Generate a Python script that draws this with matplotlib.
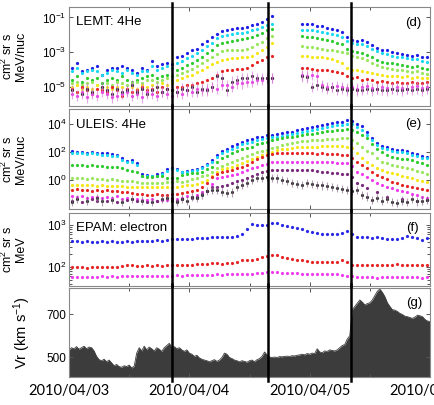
import matplotlib
matplotlib.use("Agg")
import matplotlib.pyplot as plt
import numpy as np
from matplotlib.ticker import FixedLocator, LogFormatterMathtext, NullFormatter, LogLocator

plt.rcParams['font.family'] = ['Liberation Sans', 'DejaVu Sans']
plt.rcParams['mathtext.fontset'] = 'custom'
plt.rcParams['mathtext.rm'] = 'Liberation Sans'
plt.rcParams['mathtext.it'] = 'Liberation Sans:italic'

nan = np.nan

# ---- data -------------------------------------------------------------
# hourly averages, time in hours from 2010/04/03 00:00
hours = np.arange(72) + 0.5
day_labels = ['2010/04/03', '2010/04/04', '2010/04/05', '2010/04/06']
event_days = [0.86, 1.65, 2.34]

# LEMT 4He, log10 of intensity per energy channel
lemt_blue = [-3.9, -3.6, -4.1, -4.0, -3.9, -3.8, -4.3, -4.0, -3.9, -3.9, -3.8, -3.9, -4.0, -4.2, -3.9, -4.0, -3.5, -3.8, -3.7, -3.6, -3.7,
             -3.3, -3.2, -3.05, -2.9, -2.8, -2.55, -2.35, -2.15, -1.95, -1.8, -1.72, -1.65, -1.6, -1.6, -1.58, -1.45, -1.35, -1.28, -1.1, -0.9,
             nan, nan, nan, nan, nan,
             -1.35, -1.38, -1.4, -1.48, -1.52, -1.6, -1.65, -1.75, -1.85, -2.1, -2.3, -2.35, -2.3, -2.4, -2.6, -2.75, -2.85, -2.9, -3.0, -3.05, -3.1, -3.15, -3.2, -3.15, -3.25, -3.3]
lemt_cyan = [-4.1, -3.9, -4.2, -4.1, -4.0, -4.1, -4.3, -4.2, -4.0, -4.1, -4.2, -4.0, -4.2, -4.3, -4.1, -4.1, -3.8, -4.0, -3.9, -3.8, -3.9,
             -3.6, -3.5, -3.35, -3.2, -3.05, -2.85, -2.65, -2.45, -2.2, -2.05, -2.0, -1.95, -1.9, -1.88, -1.82, -1.75, -1.65, -1.55, -1.45, -1.4,
             nan, nan, nan, nan, nan,
             -1.7, -1.7, -1.75, -1.8, -1.82, -1.9, -1.95, -2.0, -2.1, -2.35, -2.5, -2.55, -2.55, -2.65, -2.8, -2.95, -3.05, -3.1, -3.2, -3.25, -3.3, -3.35, -3.4, -3.4, -3.5, -3.55]
lemt_green = [-4.6, -4.4, -4.7, -4.5, -4.6, -4.5, -4.8, -4.6, -4.5, -4.6, -4.4, -4.6, -4.7, -4.6, -4.5, -4.4, -4.3, -4.5, -4.4, -4.3, -4.4,
              -4.0, -3.9, -3.75, -3.6, -3.45, -3.25, -3.05, -2.85, -2.6, -2.45, -2.4, -2.35, -2.3, -2.25, -2.2, -2.1, -2.0, -1.9, -1.75, -1.65,
              nan, nan, nan, nan, nan,
              -2.05, -2.1, -2.15, -2.2, -2.25, -2.3, -2.35, -2.45, -2.55, -2.8, -2.95, -3.0, -3.05, -3.15, -3.3, -3.45, -3.55, -3.6, -3.65, -3.7, -3.75, -3.8, -3.85, -3.8, -3.9, -3.95]
lemt_lgreen = [-4.8, -4.7, -4.9, -4.8, -4.7, -4.9, -5.0, -4.8, -4.9, -4.7, -4.8, -4.9, -4.8, -4.7, -4.8, -4.6, -4.6, -4.7, -4.6, -4.5, -4.6,
               -4.3, -4.2, -4.1, -3.95, -3.8, -3.6, -3.45, -3.3, -3.1, -2.95, -2.9, -2.9, -2.85, -2.85, -2.8, -2.7, -2.55, -2.4, -2.2, -2.05,
               nan, nan, nan, nan, nan,
               -2.65, -2.7, -2.7, -2.75, -2.8, -2.85, -2.9, -2.95, -3.0, -3.05, -3.2, -3.3, -3.35, -3.45, -3.6, -3.75, -3.85, -3.9, -3.95, -4.0, -4.05, -4.1, -4.15, -4.1, -4.2, -4.25]
lemt_yellow = [-5.0, -4.9, -5.1, -5.0, -5.1, -4.9, -5.2, -5.0, -5.1, -5.0, -5.0, -5.1, -5.0, -5.1, -4.9, -5.0, -4.9, -5.0, -4.8, -4.9, -4.8,
               -4.6, -4.5, -4.4, -4.3, -4.15, -4.0, -3.85, -3.7, -3.55, -3.45, -3.4, -3.35, -3.35, -3.3, -3.3, -3.2, -3.05, -2.9, -2.7, -2.5,
               nan, nan, nan, nan, nan,
               -3.2, -3.2, -3.25, -3.3, -3.3, -3.35, -3.4, -3.5, -3.6, -3.9, -4.0, -4.05, -4.1, -4.15, -4.2, -4.25, -4.3, -4.35, -4.4, -4.4, -4.45, -4.4, -4.5, -4.45, -4.5, -4.5]
lemt_red = [-5.1, -5.3, -5.0, -5.2, -5.4, -5.1, -5.2, -5.3, -5.0, -5.2, -5.5, -5.1, -5.3, -5.2, -5.0, -5.2, -5.1, -5.3, -5.0, -5.1, -5.2,
            -5.0, -5.0, -4.9, -4.9, -4.8, -4.7, -4.6, -4.5, -4.3, -4.1, -4.0, -4.0, -3.95, -3.95, -3.9, -3.75, -3.55, -3.45, -3.3, -3.2,
            nan, nan, nan, nan, nan,
            -3.9, -3.9, -3.95, -4.0, -4.05, -4.0, -4.1, -4.15, -4.2, -4.4, -4.5, -4.45, -4.6, -4.55, -4.6, -4.7, -4.65, -4.7, -4.75, -4.7, -4.75, -4.8, -4.7, -4.75, -4.8, -4.7]
lemt_magenta = [-5.4, -5.5, -5.3, -5.6, -5.4, -5.5, -5.3, -5.4, -5.6, -5.5, -5.4, -5.3, -5.5, -5.4, -5.6, -5.3, -5.4, -5.5, -5.3, -5.4, -5.5,
                -5.3, -5.4, -5.2, -5.3, -5.1, -5.2, -5.1, -5.0, -5.1, -4.9, -4.9, -5.0, -4.8, -4.8, -4.7, -4.7, -4.6, -4.6, -4.5, -4.5,
                nan, nan, nan, nan, nan,
                -4.3, -4.35, -4.3, -4.4, -4.9, -5.0, -5.0, -4.95, -5.0, -5.05, -5.0, -5.1, -5.0, -4.95, -5.05, -5.1, -5.0, -5.05, -5.1, -5.0, -5.05, -5.1, -5.0, -4.95, -5.05, -5.0]
lemt_black = [-5.2, nan, -5.4, -5.1, -5.3, nan, -5.0, -5.2, -5.4, -5.1, -5.3, -5.2, -4.9, -5.3, -5.1, -5.4, -5.2, -5.0, -5.3, -5.1, -5.2,
              -5.3, -5.1, -5.2, -5.0, -5.3, -5.1, -5.2, -5.0, -4.4, -4.5, -5.2, -4.7, -4.6, -4.5, -4.5, -4.4, -4.5, -4.5, -4.5, -4.5,
              nan, nan, nan, nan, nan,
              -4.4, -4.45, -5.0, -4.9, -5.0, -5.1, -5.0, -5.15, -5.1, -5.2, -5.1, -5.2, -5.15, -5.1, -5.2, -5.1, -5.15, -5.2, -5.1, -5.15, -5.2, -5.1, -5.15, -5.1, -5.2, -5.1]

# ULEIS 4He, log10 of intensity per energy channel
uleis_blue = [2.05, 2.0, 2.0, 1.95, 2.0, 1.95, 1.9, 1.9, 1.85, 1.8, 1.55, 1.35, 1.4, 1.2,
              0.4, 0.35, 0.3, 0.4, 0.5, 0.75, 0.85, 0.8, 0.6, 0.65, 0.7, 0.8, 0.95, 1.15, 1.45,
              1.8, 2.1, 2.25, 2.45, 2.6, 2.75, 2.86, 2.95, 3.05, 3.12, 3.2, 3.25, 3.3, 3.38, 3.42, 3.48, 3.57, 3.65, 3.72,
              3.8, 3.9, 3.95, 4.02, 4.1, 4.15, 4.18, 4.29, 4.25,
              4.05, 3.86, 3.45, 3.0, 2.65, 2.45, 2.38, 2.25, 2.15, 2.12, 2.05, 1.95, 1.85, 1.7, 1.62]
uleis_cyan = [1.95, 1.9, 1.92, 1.88, 1.9, 1.85, 1.82, 1.8, 1.75, 1.7, 1.45, 1.3, 1.3, 1.1,
              0.3, 0.28, 0.25, 0.3, 0.4, 0.65, 0.75, 0.7, 0.55, 0.55, 0.62, 0.7, 0.85, 1.05, 1.3,
              1.65, 1.9, 2.05, 2.25, 2.4, 2.55, 2.66, 2.75, 2.85, 2.92, 3.0, 3.05, 3.1, 3.18, 3.22, 3.28, 3.36, 3.45, 3.52,
              3.6, 3.68, 3.72, 3.8, 3.88, 3.92, 3.96, 4.05, 4.0,
              3.82, 3.6, 3.25, 2.85, 2.5, 2.3, 2.22, 2.1, 2.0, 1.98, 1.9, 1.82, 1.72, 1.6, 1.55]
uleis_green = [1.1, 1.05, 1.08, 1.0, 1.05, 1.0, 0.98, 0.95, 0.95, 0.95, 0.85, 0.7, 0.65, 0.55,
               0.25, 0.22, 0.2, 0.25, 0.28, 0.15, 0.12, 0.15, 0.35, 0.45, 0.48, 0.5, 0.6, 0.75, 0.95,
               1.3, 1.55, 1.75, 1.9, 2.05, 2.2, 2.26, 2.4, 2.55, 2.65, 2.74, 2.85, 2.92, 2.98, 3.05, 3.1, 3.18, 3.25, 3.3,
               3.33, 3.4, 3.45, 3.5, 3.55, 3.6, 3.62, 3.69, 3.6,
               3.45, 3.2, 2.98, 2.55, 2.25, 2.0, 1.8, 1.67, 1.6, 1.52, 1.48, 1.4, 1.3, 1.18, 1.07]
uleis_lgreen = [0.12, 0.1, 0.15, 0.08, 0.1, 0.05, 0.08, 0.02, 0.05, 0.0, -0.05, -0.1, -0.1, -0.15,
                -0.22, -0.24, -0.25, -0.22, -0.2, -0.15, -0.12, -0.1, -0.12, -0.05, 0.05, 0.15, 0.25, 0.36, 0.6,
                0.83, 1.0, 1.15, 1.31, 1.45, 1.55, 1.7, 1.85, 2.0, 2.1, 2.14, 2.3, 2.4, 2.5, 2.58, 2.65, 2.72, 2.78, 2.81,
                2.84, 2.86, 2.9, 2.92, 2.95, 2.96, 2.98, 2.98, 2.9,
                2.62, 2.35, 2.1, 1.9, 1.6, 1.31, 1.2, 1.1, 1.0, 0.95, 0.85, 0.75, 0.65, 0.55, 0.43]
uleis_yellow = [-0.36, -0.35, -0.38, -0.4, -0.38, -0.42, -0.4, -0.43, -0.42, -0.43, -0.45, -0.48, -0.5, -0.5,
                -0.52, -0.52, -0.55, -0.5, -0.52, -0.5, -0.55, -0.5, -0.45, -0.4, -0.36, -0.3, -0.15, 0.0, 0.3,
                0.6, 0.75, 0.85, 0.95, 1.05, 1.19, 1.35, 1.5, 1.65, 1.79, 1.9, 2.02, 2.14, 2.2, 2.25, 2.3, 2.35, 2.38, 2.38,
                2.4, 2.4, 2.42, 2.42, 2.43, 2.43, 2.42, 2.4, 2.3,
                1.9, 1.6, 1.31, 1.1, 0.83, 0.7, 0.6, 0.48, 0.4, 0.3, 0.2, 0.1, 0.0, -0.05, -0.12]
uleis_red = [-0.71, -0.65, -0.75, -0.7, -0.78, -0.72, -0.8, -0.75, -0.82, -0.83, -0.85, -0.9, -0.95, -1.0,
             -1.05, -1.07, -1.1, -1.05, -1.07, -1.1, -1.05, -1.0, -0.95, -0.85, -0.83, -0.7, -0.5, -0.24, 0.2,
             0.43, 0.55, 0.65, 0.71, 0.85, 0.95, 1.1, 1.3, 1.5, 1.67, 1.8, 1.85, 1.9, 1.9, 1.92, 1.9, 1.9, 1.92, 1.9,
             1.9, 1.88, 1.9, 1.88, 1.85, 1.85, 1.82, 1.79, 1.6,
             1.31, 1.05, 0.83, 0.6, 0.36, 0.2, 0.05, -0.12, -0.25, -0.35, -0.45, -0.5, -0.6, -0.65, -0.71]
uleis_magenta = [-1.19, -1.25, -1.15, -1.3, -1.2, -1.25, -1.3, -1.2, -1.3, -1.19, -1.35, -1.3, -1.4, -1.38,
                 -1.43, -1.45, -1.4, -1.5, -1.43, -1.45, -1.4, -1.35, -1.3, -1.19, -1.2, -1.1, -0.9, -0.83, -0.3,
                 0.12, 0.2, 0.3, 0.36, 0.45, 0.6, 0.7, 0.85, 0.95, 1.07, 1.15, 1.25, 1.31, 1.3, 1.32, 1.31, 1.3, 1.28, 1.31,
                 1.3, 1.28, 1.27, 1.25, 1.25, 1.22, 1.2, 1.19, 1.0,
                 0.6, 0.4, 0.2, 0.0, -0.2, -0.35, -0.48, -0.6, -0.71, -0.8, -0.9, -1.0, -1.1, -1.2, -1.31]
uleis_purple = [-1.5, nan, -1.6, nan, -1.4, -1.55, nan, -1.5, nan, -1.6, nan, -1.45, nan, -1.55,
                nan, -1.6, nan, -1.5, nan, nan, -1.3, -1.5, -1.4, nan, -1.3, -1.2, -1.0, -0.8, -0.55,
                -0.52, -0.45, -0.36, -0.2, -0.1, 0.0, 0.15, 0.3, 0.45, 0.6, 0.65, 0.71, 0.7, 0.72, 0.71, 0.7, 0.71, 0.68, 0.71,
                0.7, 0.65, 0.6, 0.55, 0.5, 0.48, 0.45, 0.43, 0.2,
                -0.24, -0.4, -0.6, nan, -0.9, nan, -1.2, nan, nan, -1.4, nan, nan, -1.5, nan, -1.45]
uleis_black = [-1.6, -1.4, nan, -1.5, nan, -1.3, -1.55, nan, -1.45, nan, -1.6, nan, -1.4, nan,
               -1.5, nan, -1.6, nan, -1.4, -1.3, -1.55, -1.6, -1.35, -1.5, -1.2, -1.3, -1.1, -0.8, -0.75,
               -0.71, -0.85, -0.95, -0.9, -0.5, -0.36, -0.2, 0.0, 0.12, 0.15, 0.19, 0.15, 0.1, 0.0, -0.1, -0.24, -0.3, -0.35, -0.24,
               -0.28, -0.36, -0.4, -0.45, -0.5, -0.6, -0.65, -0.71, -0.8,
               -0.75, -1.1, -1.2, -1.43, -1.3, -1.5, -1.4, -1.6, -1.67, -1.5, -1.6, -1.4, -1.55, -1.5, -1.45]

# EPAM electrons, log10 of intensity
epam_blue = [2.63, 2.62, 2.6, 2.62, 2.61, 2.6, 2.62, 2.61, 2.62, 2.6, 2.61, 2.62, 2.6, 2.62, 2.63, 2.62, 2.63, 2.64, 2.63, 2.65,
             2.66, 2.67, 2.68, 2.67, 2.68, 2.69, 2.7, 2.7,
             2.72, 2.72, 2.71, 2.72, 2.72, 2.75, 2.8, 2.9, 3.02, 3.0, 3.0, 3.01, 3.05, 3.06, 3.0, 2.98, 2.95, 2.93, 2.9, 2.87,
             2.84, 2.82, 2.8, 2.8, 2.8, 2.8, 2.81, 2.85, 2.78, 2.72, 2.71, 2.71, 2.7, 2.71, 2.7, 2.68, 2.67, 2.68, 2.7, 2.75,
             2.72, 2.7, 2.65, 2.7]
epam_red = [2.0, 2.01, 2.0, 1.99, 2.0, 2.01, 2.0, 2.0, 2.01, 2.0, 2.02, 2.06, 2.04, 2.03, 2.03, 2.04, 2.03, 2.04, 2.03, 2.04,
            2.04, 2.05, 2.04, 2.05, 2.06, 2.07, 2.07, 2.08,
            2.09, 2.09, 2.08, 2.09, 2.1, 2.12, 2.17, 2.17, 2.16, 2.2, 2.24, 2.27, 2.29, 2.28, 2.24, 2.22, 2.2, 2.18, 2.16, 2.14,
            2.13, 2.13, 2.12, 2.13, 2.12, 2.13, 2.16, 2.12, 2.06, 2.05, 2.06, 2.05, 2.05, 2.04, 2.04, 2.05, 2.04, 2.08, 2.05, 2.05,
            2.06, 2.05, 2.05, 2.04]
epam_magenta = [1.76, 1.77, 1.76, 1.77, 1.76, 1.77, 1.78, 1.77, 1.78, 1.77, 1.78, 1.79, 1.78, 1.79, 1.79, 1.8, 1.79, 1.8, 1.8, 1.79,
                1.8, 1.81, 1.8, 1.81, 1.81, 1.82, 1.81, 1.82,
                1.82, 1.83, 1.82, 1.83, 1.83, 1.83, 1.84, 1.83, 1.84, 1.85, 1.86, 1.88, 1.88, 1.89, 1.87, 1.86, 1.85, 1.85, 1.84, 1.84,
                1.84, 1.83, 1.84, 1.83, 1.84, 1.83, 1.82, 1.8, 1.78, 1.77, 1.76, 1.76, 1.76, 1.75, 1.76, 1.76, 1.76, 1.77, 1.76, 1.76,
                1.77, 1.76, 1.75, 1.76]

# solar wind radial speed, 30-min values (km/s)
vr_speed = [535, 545, 540, 550, 538, 545, 552, 540, 548, 545, 530, 505, 490,
            485, 492, 480, 488, 475,
            462, 468, 458, 455, 462, 458, 465, 452, 460,
            520, 545, 530, 552, 535, 548, 540, 530, 545, 538, 528, 545, 555, 565, 548,
            550, 540, 545, 535, 528, 535, 520, 515, 505, 510, 498, 492, 488, 485, 480, 485,
            490, 482, 488, 500, 520, 515, 500, 495, 488, 485,
            480, 485, 482, 478, 485, 488, 480, 490, 495, 505,
            525, 512, 502,
            500, 502, 500, 504, 503, 505, 506, 505, 508, 507, 510, 512, 515, 512, 518, 515,
            520, 518, 540, 525, 522, 530, 528, 535, 532, 530, 535, 545, 555, 560,
            585, 600, 720, 735, 750, 765, 755, 742, 748, 752, 765, 785, 805, 815, 800, 780,
            752, 735, 720, 718, 712, 703, 698, 690, 688, 684, 680, 686, 695, 692, 688, 675, 668, 665]

# ---- figure -----------------------------------------------------------
lemt_channels = [(lemt_blue, '#1f1fe6'), (lemt_cyan, '#19d9f0'), (lemt_green, '#2ecc2e'), (lemt_lgreen, '#9ae65c'),
                 (lemt_yellow, '#f5e617'), (lemt_red, '#e62626'), (lemt_magenta, '#f03cf0'), (lemt_black, '#3a2a3a')]
uleis_channels = [(uleis_blue, '#1f1fe6'), (uleis_cyan, '#19d9f0'), (uleis_green, '#2ecc2e'), (uleis_lgreen, '#9ae65c'),
                  (uleis_yellow, '#f5e617'), (uleis_red, '#e62626'), (uleis_magenta, '#f03cf0'),
                  (uleis_purple, '#7a2a7a'), (uleis_black, '#333333')]
epam_channels = [(epam_blue, '#2a2ae6'), (epam_red, '#e62626'), (epam_magenta, '#f03cf0')]

days = hours / 24.0
fig = plt.figure(figsize=(4.34, 4.05), dpi=100)
W = 361 / 434
L = 69 / 434
ax_d = fig.add_axes([L, 1 - 106 / 405, W, 99 / 405])
ax_e = fig.add_axes([L, 1 - 209 / 405, W, 100 / 405])
ax_f = fig.add_axes([L, 1 - 286 / 405, W, 73 / 405])
ax_g = fig.add_axes([L, 1 - 377 / 405, W, 89 / 405])
axes = [ax_d, ax_e, ax_f, ax_g]

ms = 2.3
for vals, col in lemt_channels:
    y = 10 ** np.array(vals)
    ax_d.plot(days, y, 'o', color=col, ms=ms, mec='none')
for vals in (lemt_magenta, lemt_black):
    y = 10 ** np.array(vals)
    ax_d.errorbar(days, y, yerr=[y * 0.5, y * 1.0], fmt='none', ecolor='#d070d0', elinewidth=0.8, alpha=0.6)

for vals, col in uleis_channels:
    y = 10 ** np.array(vals)
    ax_e.plot(days, y, 'o', color=col, ms=ms, mec='none')
y = 10 ** np.array(uleis_black)
ax_e.errorbar(days, y, yerr=[y * 0.5, y * 1.0], fmt='none', ecolor='#806080', elinewidth=0.8, alpha=0.6)

for vals, col in epam_channels:
    ax_f.plot(days, 10 ** np.array(vals), 'o', color=col, ms=ms, mec='none')

vr_days = np.arange(len(vr_speed)) / 48.0
ax_g.fill_between(vr_days, 0, vr_speed, color='#3c3c3c', lw=0)
ax_g.plot(vr_days, vr_speed, color='#3c3c3c', lw=0.6)

ax_d.set_yscale('log')
ax_d.set_ylim(10 ** -6.1, 10 ** -0.4)
ax_d.yaxis.set_major_locator(FixedLocator([1e-5, 1e-3, 1e-1]))
ax_e.set_yscale('log')
ax_e.set_ylim(10 ** -2.1, 10 ** 5.1)
ax_e.yaxis.set_major_locator(FixedLocator([1e0, 1e2, 1e4]))
ax_f.set_yscale('log')
ax_f.set_ylim(10 ** 1.55, 10 ** 3.29)
ax_f.yaxis.set_major_locator(FixedLocator([1e2, 1e3]))
ax_f.yaxis.set_minor_locator(LogLocator(subs=np.arange(2, 10)))
ax_g.set_ylim(410, 820)
ax_g.set_yticks([500, 700])

for ax in (ax_d, ax_e):
    ax.yaxis.set_minor_locator(FixedLocator([]))
for ax in (ax_d, ax_e, ax_f):
    ax.yaxis.set_major_formatter(LogFormatterMathtext())
    ax.yaxis.set_minor_formatter(NullFormatter())

for ax in axes:
    ax.set_xlim(0, 3)
    ax.set_xticks([0, 1, 2, 3])
    ax.set_xticks([0.5, 1.5, 2.5], minor=True)
    ax.tick_params(which='both', direction='in', top=True, right=True, labelsize=8.5,
                   length=3, width=0.7, color='#555555', pad=2)
    ax.tick_params(which='minor', length=2)
    for sp in ax.spines.values():
        sp.set_color('#888888')
        sp.set_linewidth(0.8)
    for ev in event_days:
        ax.axvline(ev, color='black', lw=1.8, ymin=-0.04, ymax=1.04, clip_on=False, zorder=5)
    if ax is not ax_g:
        ax.set_xticklabels([])

ax_g.set_xticklabels(day_labels, family=['Lato', 'DejaVu Sans'], fontsize=10.5)
ax_g.tick_params(axis='x', pad=5)

# panel annotations
txt = dict(fontsize=9.5, va='center')
ax_d.text(0.02, 0.85, 'LEMT: 4He', transform=ax_d.transAxes, **txt)
ax_d.text(0.977, 0.84, '(d)', transform=ax_d.transAxes, ha='right', **txt)
ax_e.text(0.02, 0.84, 'ULEIS: 4He', transform=ax_e.transAxes, **txt)
ax_e.text(0.977, 0.85, '(e)', transform=ax_e.transAxes, ha='right', **txt)
ax_f.text(0.02, 0.8, 'EPAM: electron', transform=ax_f.transAxes, **txt)
ax_f.text(0.97, 0.8, '(f)', transform=ax_f.transAxes, ha='right', **txt)
ax_g.text(0.98, 0.83, '(g)', transform=ax_g.transAxes, ha='right', **txt)

ax_d.set_ylabel('cm$^2$ sr s\nMeV/nuc', fontsize=9, linespacing=1.0)
ax_e.set_ylabel('cm$^2$ sr s\nMeV/nuc', fontsize=9, linespacing=1.0)
ax_f.set_ylabel('cm$^2$ sr s\nMeV', fontsize=9, linespacing=1.0)
ax_g.set_ylabel('Vr (km s$^{-1}$)', fontsize=10.5)
for ax in (ax_d, ax_e, ax_f):
    ax.yaxis.set_label_coords(-0.115, 0.5)
ax_g.yaxis.set_label_coords(-0.1, 0.5)

fig.savefig('out.png', dpi=100)
